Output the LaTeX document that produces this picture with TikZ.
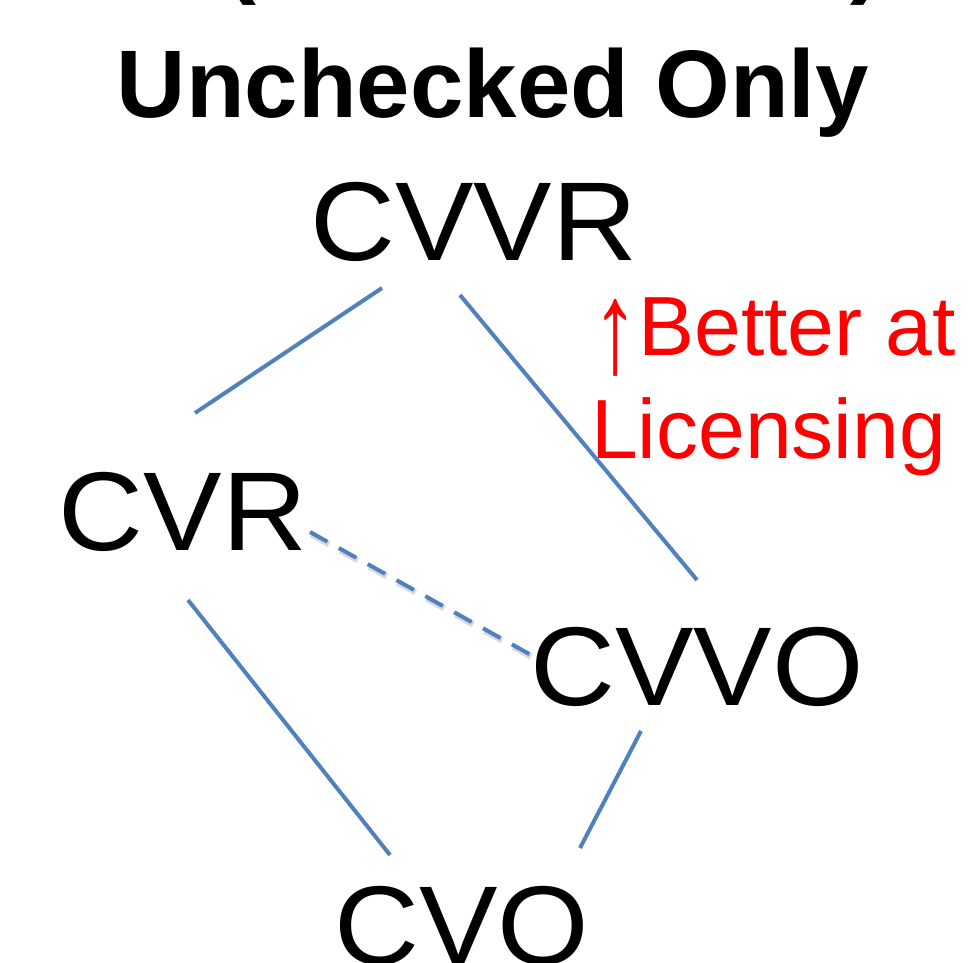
\documentclass[tikz,border=0pt]{standalone}
\usepackage{fontspec}
\setmainfont{Liberation Sans}
\newfontfamily\lblfont[FakeStretch=1.05]{Liberation Sans}
\definecolor{edgeblue}{HTML}{4F81BD}
\begin{document}
\begin{tikzpicture}[x=1pt,y=-1pt,
  lbl/.style={inner sep=0pt,anchor=base,font=\lblfont\fontsize{112}{112}\selectfont},
  ttl/.style={inner sep=0pt,anchor=base,font=\fontsize{96}{96}\selectfont\bfseries},
  note/.style={inner sep=0pt,anchor=base west,text=red,font=\fontsize{84}{84}\selectfont},
  edge/.style={draw=edgeblue,line width=4pt},
  dedge/.style={edge,dash pattern=on 20pt off 13pt}]
\useasboundingbox (0,0) rectangle (969,963);
\fill[white] (0,0) rectangle (969,963);
% cut-off line above the title
\node[ttl] (lp) at (240,-14) {(};
\node[ttl] (rp) at (866,-14) {)};
\node[ttl] (title) at (493,118) {Unchecked Only};
\node[lbl] (cvvr) at (474,260) {CVVR};
\node[lbl] (cvr) at (183,550) {CVR};
\node[lbl] (cvvo) at (697,705) {CVVO};
\node[lbl] (cvo) at (462,964) {CVO};
\node[note] (n1) at (592,355) {\raisebox{-17pt}{\scalebox{1.1}[1.55]{↑}}Better at};
\node[note] (n2) at (591,458) {Licensing};
% edge end points
\coordinate (a1) at (382,288); \coordinate (a2) at (195,413);
\coordinate (b1) at (460,295); \coordinate (b2) at (697,580);
\coordinate (c1) at (188,600); \coordinate (c2) at (390,855);
\coordinate (d1) at (641,731); \coordinate (d2) at (580,848);
\coordinate (e1) at (310,532); \coordinate (e2) at (540,660);
\draw[edge] (a1) -- (a2);
\draw[edge] (b1) -- (b2);
\draw[edge] (c1) -- (c2);
\draw[edge] (d1) -- (d2);
\draw[dedge,draw=black,opacity=0.15,line width=6pt,transform canvas={shift={(1.5pt,-2.5pt)}}] (e1) -- (e2);
\draw[dedge] (e1) -- (e2);
\end{tikzpicture}
\end{document}
